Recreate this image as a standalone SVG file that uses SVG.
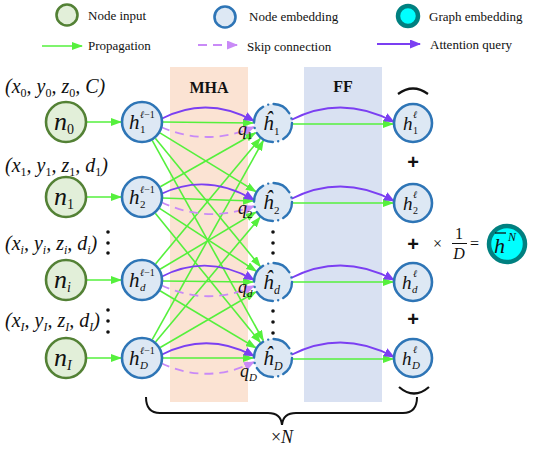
<svg xmlns="http://www.w3.org/2000/svg" width="550" height="450" viewBox="0 0 550 450">
<defs>
<style>
.t{font-family:"Liberation Serif",serif;fill:#111;}
.m{font-family:"Liberation Serif",serif;font-style:italic;fill:#111;}
.b{font-family:"Liberation Serif",serif;font-weight:bold;fill:#111;}
.inp{fill:#e2efd9;stroke:#538135;stroke-width:2.6;}
.emb{fill:#dde8f4;stroke:#2e75b6;stroke-width:2.6;}
.hat{fill:#dde8f4;stroke:#2e75b6;stroke-width:2.4;stroke-dasharray:18.85 5.5 0 5.5;stroke-linecap:round;}
.gr{fill:#00ffff;stroke:#008080;stroke-width:4.5;}
.g{stroke:#55f03c;stroke-width:1.6;fill:none;marker-end:url(#ag);}
.p{stroke:#7b3ff2;stroke-width:1.8;fill:none;marker-end:url(#ap);}
.s{stroke:#c98af7;stroke-width:1.8;fill:none;stroke-dasharray:9 6;marker-end:url(#as);}
.dot{fill:#111;}
</style>
<marker id="ag" markerUnits="userSpaceOnUse" markerWidth="11" markerHeight="8" refX="10" refY="4" orient="auto"><path d="M0,0 L11,4 L0,8 z" fill="#55f03c"/></marker>
<marker id="ap" markerUnits="userSpaceOnUse" markerWidth="11" markerHeight="9" refX="10" refY="4.5" orient="auto"><path d="M0,0 L11,4.5 L0,9 z" fill="#7b3ff2"/></marker>
<marker id="as" markerUnits="userSpaceOnUse" markerWidth="11" markerHeight="9" refX="10" refY="4.5" orient="auto"><path d="M0,0 L11,4.5 L0,9 z" fill="#c98af7"/></marker>
</defs>
<rect width="550" height="450" fill="#fff"/>

<g id="legend">
<circle class="inp" cx="67" cy="15" r="10.5"/>
<text class="t" x="88" y="20" font-size="13">Node input</text>
<circle class="emb" cx="225" cy="17" r="10.5"/>
<text class="t" x="249" y="21" font-size="13">Node embedding</text>
<circle class="gr" cx="408" cy="16" r="10"/>
<text class="t" x="429" y="21" font-size="13">Graph embedding</text>
<line class="g" x1="42" y1="46" x2="82" y2="46"/>
<text class="t" x="88" y="50" font-size="13">Propagation</text>
<line class="s" x1="198" y1="45" x2="237" y2="45"/>
<text class="t" x="247" y="51" font-size="13">Skip connection</text>
<line class="p" x1="377" y1="44" x2="420" y2="44"/>
<text class="t" x="430" y="49" font-size="13">Attention query</text>
</g>

<g id="bands">
<rect x="170" y="67" width="78" height="335" fill="#fbe3d3"/>
<text class="b" x="209" y="93" font-size="16" text-anchor="middle">MHA</text>
<rect x="304" y="67" width="78" height="335" fill="#d9e1f2"/>
<text class="b" x="343" y="92" font-size="16" text-anchor="middle">FF</text>
</g>

<g id="input-labels">
<text class="m" x="5" y="93" font-size="20">(x<tspan font-size="12" dy="4" font-style="normal">0</tspan><tspan dy="-4">, y</tspan><tspan font-size="12" dy="4" font-style="normal">0</tspan><tspan dy="-4">, z</tspan><tspan font-size="12" dy="4" font-style="normal">0</tspan><tspan dy="-4">, C)</tspan></text>
<text class="m" x="5" y="172" font-size="20">(x<tspan font-size="12" dy="4" font-style="normal">1</tspan><tspan dy="-4">, y</tspan><tspan font-size="12" dy="4" font-style="normal">1</tspan><tspan dy="-4">, z</tspan><tspan font-size="12" dy="4" font-style="normal">1</tspan><tspan dy="-4">, d</tspan><tspan font-size="12" dy="4" font-style="normal">1</tspan><tspan dy="-4">)</tspan></text>
<text class="m" x="5" y="250" font-size="20">(x<tspan font-size="12" dy="4">i</tspan><tspan dy="-4">, y</tspan><tspan font-size="12" dy="4">i</tspan><tspan dy="-4">, z</tspan><tspan font-size="12" dy="4">i</tspan><tspan dy="-4">, d</tspan><tspan font-size="12" dy="4">i</tspan><tspan dy="-4">)</tspan></text>
<text class="m" x="5" y="327" font-size="20">(x<tspan font-size="12" dy="4">I</tspan><tspan dy="-4">, y</tspan><tspan font-size="12" dy="4">I</tspan><tspan dy="-4">, z</tspan><tspan font-size="12" dy="4">I</tspan><tspan dy="-4">, d</tspan><tspan font-size="12" dy="4">I</tspan><tspan dy="-4">)</tspan></text>
<circle class="dot" cx="108" cy="232" r="1.8"/><circle class="dot" cx="108" cy="243" r="1.8"/><circle class="dot" cx="108" cy="253" r="1.8"/>
<circle class="dot" cx="108" cy="310" r="1.8"/><circle class="dot" cx="108" cy="321" r="1.8"/><circle class="dot" cx="108" cy="332" r="1.8"/>
</g>

<g id="connectors">
<line class="g" x1="86" y1="122" x2="121" y2="122"/>
<line class="g" x1="86" y1="197" x2="121" y2="197"/>
<line class="g" x1="86" y1="280" x2="121" y2="280"/>
<line class="g" x1="86" y1="358" x2="121" y2="358"/>

<line class="g" x1="159.9" y1="132.9" x2="255.9" y2="191.6"/>
<line class="g" x1="155.3" y1="138.2" x2="260.3" y2="266.5"/>
<line class="g" x1="152.2" y1="140.4" x2="263.3" y2="340.5"/>
<line class="g" x1="160.3" y1="186.7" x2="255.6" y2="132.8"/>
<line class="g" x1="159.6" y1="208.4" x2="256.2" y2="271.1"/>
<line class="g" x1="155.3" y1="213.3" x2="260.4" y2="342.5"/>
<line class="g" x1="155.5" y1="263.9" x2="260.2" y2="138.4"/>
<line class="g" x1="160.0" y1="269.3" x2="255.8" y2="212.2"/>
<line class="g" x1="160.0" y1="290.7" x2="255.8" y2="347.8"/>
<line class="g" x1="152.2" y1="339.7" x2="263.3" y2="140.5"/>
<line class="g" x1="155.5" y1="341.9" x2="260.1" y2="217.3"/>
<line class="g" x1="160.2" y1="347.5" x2="255.7" y2="292.0"/>

<line class="g" x1="162" y1="122" x2="253" y2="123"/>
<line class="g" x1="162" y1="198" x2="253" y2="201"/>
<line class="g" x1="162" y1="281" x2="253" y2="282"/>
<line class="g" x1="162" y1="358" x2="253" y2="358"/>

<path class="s" d="M161,127 Q207,147 254,127"/>
<path class="s" d="M161,202 Q207,224 254,206"/>
<path class="s" d="M161,285 Q207,307 254,286"/>
<path class="s" d="M161,363 Q207,385 254,362"/>

<path class="p" d="M161,119 Q207,95 254,121"/>
<path class="p" d="M161,194 Q207,172 254,200"/>
<path class="p" d="M161,277 Q207,253 254,280"/>
<path class="p" d="M161,355 Q207,331 254,356"/>

<line class="g" x1="292" y1="124" x2="393" y2="124"/>
<line class="g" x1="292" y1="203" x2="393" y2="203"/>
<line class="g" x1="292" y1="282" x2="393" y2="282"/>
<line class="g" x1="292" y1="359" x2="393" y2="359"/>
<path class="p" d="M291,120 Q342,94 394,122"/>
<path class="p" d="M291,199 Q342,173 394,201"/>
<path class="p" d="M291,278 Q342,252 394,280"/>
<path class="p" d="M291,355 Q342,329 394,357"/>
</g>

<g id="n0"><circle class="inp" cx="66" cy="122" r="20"/><text class="m" x="54" y="130" font-size="26">n<tspan font-size="14" dy="4" font-style="normal">0</tspan></text></g>
<g id="n1"><circle class="inp" cx="66" cy="197" r="20"/><text class="m" x="54" y="205" font-size="26">n<tspan font-size="14" dy="4" font-style="normal">1</tspan></text></g>
<g id="ni"><circle class="inp" cx="66" cy="280" r="20"/><text class="m" x="54" y="288" font-size="26">n<tspan font-size="14" dy="4">i</tspan></text></g>
<g id="nI"><circle class="inp" cx="66" cy="358" r="20"/><text class="m" x="54" y="366" font-size="26">n<tspan font-size="14" dy="4">I</tspan></text></g>

<g id="h1prev"><circle class="emb" cx="142" cy="122" r="20"/><text class="m" x="129" y="129" font-size="21">h</text><text class="m" x="140" y="118" font-size="10">ℓ<tspan font-style="normal">−1</tspan></text><text class="t" x="140" y="133" font-size="11">1</text></g>
<g id="h2prev"><circle class="emb" cx="142" cy="197" r="20"/><text class="m" x="129" y="204" font-size="21">h</text><text class="m" x="140" y="193" font-size="10">ℓ<tspan font-style="normal">−1</tspan></text><text class="t" x="140" y="208" font-size="11">2</text></g>
<g id="hdprev"><circle class="emb" cx="142" cy="280" r="20"/><text class="m" x="129" y="287" font-size="21">h</text><text class="m" x="140" y="276" font-size="10">ℓ<tspan font-style="normal">−1</tspan></text><text class="m" x="140" y="291" font-size="11">d</text></g>
<g id="hDprev"><circle class="emb" cx="142" cy="358" r="20"/><text class="m" x="129" y="365" font-size="21">h</text><text class="m" x="140" y="354" font-size="10">ℓ<tspan font-style="normal">−1</tspan></text><text class="m" x="140" y="369" font-size="11">D</text></g>

<g id="h1hat"><circle class="hat" cx="273" cy="123" r="19"/><text class="m" x="263" y="130" font-size="21">ĥ</text><text class="t" x="274" y="135" font-size="11">1</text></g>
<g id="h2hat"><circle class="hat" cx="273" cy="202" r="19"/><text class="m" x="263" y="209" font-size="21">ĥ</text><text class="t" x="274" y="214" font-size="11">2</text></g>
<g id="hdhat"><circle class="hat" cx="273" cy="282" r="19"/><text class="m" x="263" y="289" font-size="21">ĥ</text><text class="m" x="274" y="294" font-size="12">d</text></g>
<g id="hDhat"><circle class="hat" cx="273" cy="358" r="19"/><text class="m" x="263" y="365" font-size="21">ĥ</text><text class="m" x="274" y="370" font-size="12">D</text></g>

<g id="q-labels">
<text class="m" x="238" y="135" font-size="18">q<tspan font-size="11" dy="4" font-style="normal">1</tspan></text>
<text class="m" x="238" y="214" font-size="18">q<tspan font-size="11" dy="4" font-style="normal">2</tspan></text>
<text class="m" x="238" y="293" font-size="18">q<tspan font-size="11" dy="4">d</tspan></text>
<text class="m" x="240" y="377" font-size="18">q<tspan font-size="11" dy="4">D</tspan></text>
</g>

<g id="hat-dots">
<circle class="dot" cx="273" cy="232" r="1.8"/><circle class="dot" cx="273" cy="243" r="1.8"/><circle class="dot" cx="273" cy="253" r="1.8"/>
<circle class="dot" cx="273" cy="311" r="1.8"/><circle class="dot" cx="273" cy="322" r="1.8"/><circle class="dot" cx="273" cy="333" r="1.8"/>
</g>

<g id="h1out"><circle class="emb" cx="413" cy="123" r="19"/><text class="m" x="403" y="130" font-size="19">h</text><text class="m" x="413" y="118" font-size="10">ℓ</text><text class="t" x="413" y="134" font-size="10">1</text></g>
<g id="h2out"><circle class="emb" cx="413" cy="203" r="19"/><text class="m" x="403" y="210" font-size="19">h</text><text class="m" x="413" y="198" font-size="10">ℓ</text><text class="t" x="413" y="214" font-size="10">2</text></g>
<g id="hdout"><circle class="emb" cx="413" cy="282" r="19"/><text class="m" x="402" y="289" font-size="19">h</text><text class="m" x="413" y="277" font-size="10">ℓ</text><text class="m" x="412" y="293" font-size="11">d</text></g>
<g id="hDout"><circle class="emb" cx="413" cy="358" r="19"/><text class="m" x="402" y="365" font-size="19">h</text><text class="m" x="413" y="353" font-size="10">ℓ</text><text class="m" x="412" y="369" font-size="11">D</text></g>

<g id="sum">
<path d="M398,94 Q413,83 428,94" fill="none" stroke="#111" stroke-width="2.2"/>
<path d="M399,387 Q414,400 429,387" fill="none" stroke="#111" stroke-width="2.2"/>
<text x="413" y="169" font-family="Liberation Sans,sans-serif" font-size="20" font-weight="bold" text-anchor="middle" fill="#111">+</text>
<text x="413" y="251" font-family="Liberation Sans,sans-serif" font-size="20" font-weight="bold" text-anchor="middle" fill="#111">+</text>
<text x="413" y="326" font-family="Liberation Sans,sans-serif" font-size="20" font-weight="bold" text-anchor="middle" fill="#111">+</text>
<text class="t" x="433" y="249" font-size="16">×</text>
<text class="t" x="459" y="239" font-size="16" text-anchor="middle">1</text>
<line x1="452" y1="243.5" x2="467" y2="243.5" stroke="#111" stroke-width="1"/>
<text class="m" x="459" y="259" font-size="16" text-anchor="middle">D</text>
<text class="t" x="470" y="249" font-size="16">=</text>
</g>

<g id="graph-embedding"><circle class="gr" cx="507" cy="244" r="18"/><text class="m" x="494" y="253" font-size="22">h</text><line x1="495" y1="233" x2="506" y2="233" stroke="#111" stroke-width="1.3"/><text class="m" x="508" y="241" font-size="12">N</text></g>

<g id="repeat">
<path d="M146,397 Q146,413 160,413 L268,413 Q281,413 282,425 Q283,413 296,413 L403,413 Q417,413 417,397" fill="none" stroke="#111" stroke-width="2"/>
<text class="m" x="282" y="443" font-size="18" text-anchor="middle"><tspan font-style="normal">×</tspan>N</text>
</g>
</svg>
